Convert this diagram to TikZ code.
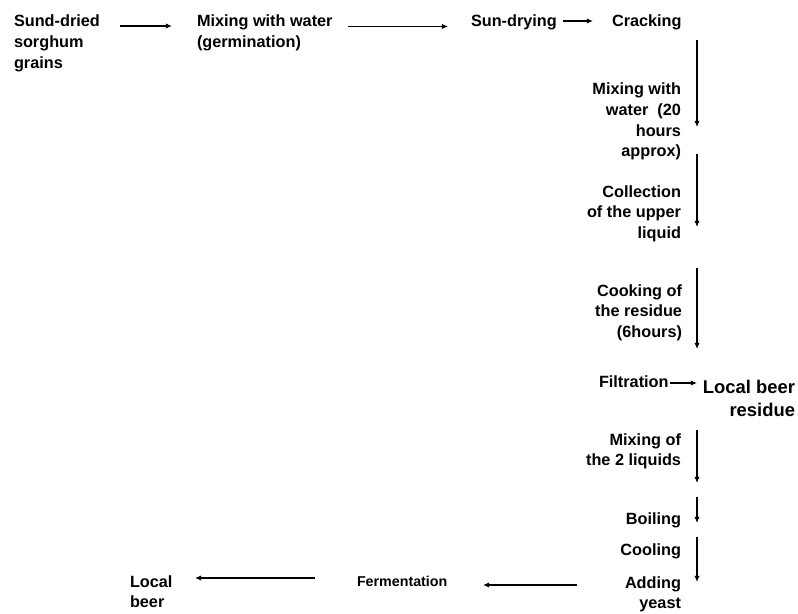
\documentclass[tikz,border=0pt]{standalone}
\usepackage{fontspec}
\setmainfont{Liberation Sans}
\usetikzlibrary{arrows.meta}
\newcommand\normtxt{\fontsize{12.2}{15.5}\selectfont\bfseries}
\newcommand\bigtxt{\fontsize{13.8}{17.3}\selectfont\bfseries}
\newcommand\smalltxt{\fontsize{10.7}{14}\selectfont\bfseries}
\newcommand\lcol[1]{\begin{tabular}[t]{@{}l@{}}#1\end{tabular}}
\newcommand\rcol[1]{\begin{tabular}[t]{@{}r@{}}#1\end{tabular}}
\tikzset{
  lbl/.style={inner sep=0pt, outer sep=0pt, font=\normtxt},
  lw/.style={lbl, anchor=base west},
  le/.style={lbl, anchor=base east},
  arr/.style={-{Latex[length=4.6pt,width=4pt]}, line width=0.9pt}
}
\begin{document}
\begin{tikzpicture}[x=0.75pt,y=-0.75pt]
\useasboundingbox (0,0) rectangle (798,613);
% text nodes
\node[lw] (sund) at (14,26.7) {\lcol{Sund-dried\\sorghum\\grains}};
\node[lw] (mixa) at (197,26.7) {\lcol{Mixing with water\\(germination)}};
\node[lw] (sundry) at (471,27) {Sun-drying};
\node[lw] (crack) at (612,27) {Cracking};
\node[le] (mixw) at (681,95) {\rcol{Mixing with\\water\ \ (20\\hours\\approx)}};
\node[le] (coll) at (681,197) {\rcol{Collection\\of the upper\\liquid}};
\node[le] (cook) at (682,296) {\rcol{Cooking of\\the residue\\(6hours)}};
\node[lw] (filt) at (599,387) {Filtration};
\node[le, font=\bigtxt] (lbr) at (795,393) {\rcol{Local beer\\residue}};
\node[le] (mixb) at (681,445) {\rcol{Mixing of\\the 2 liquids}};
\node[le] (boil) at (681,524) {Boiling};
\node[le] (cool) at (681,555) {Cooling};
\node[le] (yeast) at (681,588) {\rcol{Adding\\yeast}};
\node[lw, font=\smalltxt] (ferm) at (357,586) {Fermentation};
\node[lw] (beer) at (130,587) {\lcol{Local\\beer}};
% connector end points
\coordinate (a1s) at (120,26);   \coordinate (a1e) at (172,26);
\coordinate (a2s) at (348,26.5); \coordinate (a2e) at (448,26.5);
\coordinate (a3s) at (563,21);   \coordinate (a3e) at (593,21);
\coordinate (v1s) at (697,40);   \coordinate (v1e) at (697,127);
\coordinate (v2s) at (697,154);  \coordinate (v2e) at (697,227);
\coordinate (v3s) at (697,268);  \coordinate (v3e) at (697,349);
\coordinate (fs) at (670,383);   \coordinate (fe) at (697,383);
\coordinate (v4s) at (697,430);  \coordinate (v4e) at (697,483);
\coordinate (v5s) at (697,497);  \coordinate (v5e) at (697,523);
\coordinate (v6s) at (697,537);  \coordinate (v6e) at (697,582);
\coordinate (b1s) at (577,585);  \coordinate (b1e) at (483,585);
\coordinate (b2s) at (315,578);  \coordinate (b2e) at (195,578);
% connectors
\draw[arr] (a1s) -- (a1e);
\draw[arr] (a2s) -- (a2e);
\draw[arr] (a3s) -- (a3e);
\draw[arr] (v1s) -- (v1e);
\draw[arr] (v2s) -- (v2e);
\draw[arr] (v3s) -- (v3e);
\draw[arr] (fs) -- (fe);
\draw[arr] (v4s) -- (v4e);
\draw[arr] (v5s) -- (v5e);
\draw[arr] (v6s) -- (v6e);
\draw[arr] (b1s) -- (b1e);
\draw[arr] (b2s) -- (b2e);
\end{tikzpicture}
\end{document}
